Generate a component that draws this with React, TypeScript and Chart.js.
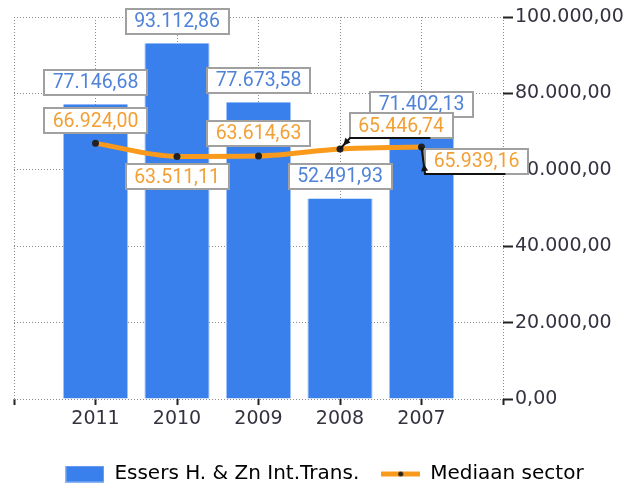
import React, { useEffect, useRef } from 'react';
import { Chart, registerables } from 'chart.js';

Chart.register(...registerables);

// ---- data ----
const categories = ['2011', '2010', '2009', '2008', '2007'];
const companyValues = [77146.68, 93112.86, 77673.58, 52491.93, 71402.13];
const medianValues = [66924.0, 63511.11, 63614.63, 65446.74, 65939.16];
const yTickValues = [0, 20000, 40000, 60000, 80000, 100000];
const seriesNames = ['Essers H. & Zn Int.Trans.', 'Mediaan sector'];

// ---- label layout (how the median value boxes avoid each other, as in the reference) ----
const medianLabelPlacement: Array<{ side: string; dx?: number; dy?: number }> = [
  { side: 'above' },
  { side: 'below' },
  { side: 'above' },
  { side: 'callout', dx: 61, dy: -23 },
  { side: 'callout', dx: 55, dy: 14 },
];

const BAR_COLOR = '#3980ec';
const LINE_COLOR = '#f99a1c';
const BAR_TEXT = '#4f82d8';
const LINE_TEXT = '#f2a035';
const AXIS_TEXT = '#333340';
const TICK_FONT = '"DejaVu Sans", Verdana, sans-serif';
const LABEL_FONT = '19.5px Roboto, "Open Sans", sans-serif';

function fmtNL(v: number): string {
  const fixed = Math.abs(v).toFixed(2);
  const [intPart, dec] = fixed.split('.');
  const grouped = intPart.replace(/\B(?=(\d{3})+(?!\d))/g, '.');
  return (v < 0 ? '-' : '') + grouped + ',' + dec;
}

const axisLabels = ['', ...categories, ''];
const barData = [null, ...companyValues, null];
const lineData = [null, ...medianValues, null];

const valueBoxes = {
  id: 'valueBoxes',
  afterDatasetsDraw(chart: any) {
    const ctx: CanvasRenderingContext2D = chart.ctx;
    const barMeta = chart.getDatasetMeta(0);
    const lineMeta = chart.getDatasetMeta(1);
    ctx.save();
    ctx.font = LABEL_FONT;
    ctx.textAlign = 'center';
    ctx.textBaseline = 'middle';
    const H = 25;
    const drawBox = (cx: number, cy: number, text: string, color: string) => {
      const w = Math.round(ctx.measureText(text).width) + 17;
      const x = Math.round(cx - w / 2);
      const y = Math.round(cy - H / 2);
      ctx.fillStyle = '#ffffff';
      ctx.fillRect(x, y, w, H);
      ctx.strokeStyle = '#a0a0a0';
      ctx.lineWidth = 2;
      ctx.strokeRect(x, y, w, H);
      ctx.fillStyle = color;
      ctx.fillText(text, cx, cy + 1);
      return { x, y, w, h: H };
    };
    barMeta.data.forEach((el: any, i: number) => {
      const v = barData[i];
      if (v == null) return;
      drawBox(el.x, el.y - 22, fmtNL(v), BAR_TEXT);
    });
    lineMeta.data.forEach((el: any, i: number) => {
      const v = lineData[i];
      if (v == null) return;
      const p = medianLabelPlacement[i - 1];
      if (p.side === 'above') {
        drawBox(el.x, el.y - 22.5, fmtNL(v), LINE_TEXT);
      } else if (p.side === 'below') {
        drawBox(el.x, el.y + 20.5, fmtNL(v), LINE_TEXT);
      } else {
        const b = drawBox(el.x + (p.dx || 0), el.y + (p.dy || 0), fmtNL(v), LINE_TEXT);
        const bx = b.x;
        const by = b.y + b.h;
        ctx.strokeStyle = '#111';
        ctx.lineWidth = 2;
        ctx.beginPath();
        ctx.moveTo(el.x, el.y);
        ctx.lineTo(bx, by);
        ctx.lineTo(bx + b.w * 0.78, by);
        ctx.stroke();
        const ang = Math.atan2(el.y - by, el.x - bx);
        const ax = bx + Math.cos(ang) * 3;
        const ay = by + Math.sin(ang) * 3;
        ctx.fillStyle = '#111';
        ctx.beginPath();
        ctx.moveTo(ax + Math.cos(ang) * 7, ay + Math.sin(ang) * 7);
        ctx.lineTo(ax + Math.cos(ang + Math.PI / 2) * 3.5, ay + Math.sin(ang + Math.PI / 2) * 3.5);
        ctx.lineTo(ax + Math.cos(ang - Math.PI / 2) * 3.5, ay + Math.sin(ang - Math.PI / 2) * 3.5);
        ctx.closePath();
        ctx.fill();
      }
    });
    ctx.restore();
  },
};

function makeSwatches() {
  const bar = document.createElement('canvas');
  bar.width = 39;
  bar.height = 17;
  const b = bar.getContext('2d')!;
  b.fillStyle = '#8fb6f4';
  b.fillRect(0, 0, 39, 17);
  b.fillStyle = BAR_COLOR;
  b.fillRect(1, 1, 37, 15);
  const line = document.createElement('canvas');
  line.width = 39;
  line.height = 7;
  const l = line.getContext('2d')!;
  l.fillStyle = LINE_COLOR;
  l.fillRect(0, 1, 39, 5);
  l.fillStyle = '#222';
  l.beginPath();
  l.arc(19.5, 3.5, 2.5, 0, Math.PI * 2);
  l.fill();
  return { bar, line };
}

export default function App() {
  const ref = useRef<HTMLCanvasElement>(null);
  useEffect(() => {
    document.body.style.margin = '0';
    const sw = makeSwatches();
    const chart = new Chart(ref.current!, {
      type: 'bar',
      data: {
        labels: axisLabels,
        datasets: [
          {
            type: 'bar',
            label: seriesNames[0],
            data: barData as any,
            backgroundColor: BAR_COLOR,
            borderColor: 'rgba(150,190,250,0.9)',
            borderWidth: { left: 1, right: 1, top: 0, bottom: 0 } as any,
            categoryPercentage: 0.8,
            barPercentage: 1,
            order: 1,
          },
          {
            type: 'line',
            label: seriesNames[1],
            data: lineData as any,
            borderColor: LINE_COLOR,
            borderWidth: 5,
            cubicInterpolationMode: 'monotone',
            pointRadius: 3.5,
            pointBackgroundColor: '#222',
            pointBorderWidth: 0,
            order: 0,
          } as any,
        ],
      },
      options: {
        responsive: false,
        animation: false,
        layout: { padding: { left: 14, top: 17, right: 0, bottom: -5 } },
        plugins: {
          tooltip: { enabled: false },
          legend: {
            position: 'bottom',
            labels: {
              usePointStyle: true,
              pointStyleWidth: 39,
              padding: 22,
              color: AXIS_TEXT,
              font: { family: '"DejaVu Sans", Verdana, sans-serif', size: 20 },
              generateLabels: () => [
                { text: seriesNames[0], pointStyle: sw.bar as any, datasetIndex: 0, hidden: false, lineWidth: 0 } as any,
                { text: seriesNames[1], pointStyle: sw.line as any, datasetIndex: 1, hidden: false, lineWidth: 0 } as any,
              ],
            },
          },
        },
        scales: {
          x: {
            type: 'category',
            offset: false,
            border: { display: false, dash: [1, 2] },
            grid: {
              offset: false,
              color: '#8c8c8c',
              lineWidth: 1,
              drawTicks: true,
              tickLength: 6,
              tickColor: '#222',
              tickWidth: 2,
              tickBorderDash: [],
            } as any,
            ticks: {
              color: AXIS_TEXT,
              font: { family: TICK_FONT, size: 19 },
              maxRotation: 0,
              autoSkip: false,
              padding: 3,
            },
            afterFit: (s: any) => {
              s.height = 43;
            },
          },
          y: {
            position: 'right',
            min: 0,
            max: 100000,
            border: { display: false, dash: [1, 2] },
            grid: {
              color: '#8c8c8c',
              lineWidth: 1,
              drawTicks: true,
              tickLength: 10,
              tickColor: '#222',
              tickWidth: 2,
              tickBorderDash: [],
            } as any,
            afterBuildTicks: (s: any) => {
              s.ticks = yTickValues.map((v) => ({ value: v }));
            },
            ticks: {
              color: AXIS_TEXT,
              font: { family: TICK_FONT, size: 19 },
              padding: 2,
              callback: (v: any) => fmtNL(Number(v)),
            },
            afterFit: (s: any) => {
              s.width = 132;
            },
          },
        },
      },
      plugins: [valueBoxes],
    });
    return () => chart.destroy();
  }, []);
  return (
    <div style={{ width: 635, height: 489 }}>
      <canvas ref={ref} width={635} height={489} style={{ display: 'block' }} />
    </div>
  );
}
